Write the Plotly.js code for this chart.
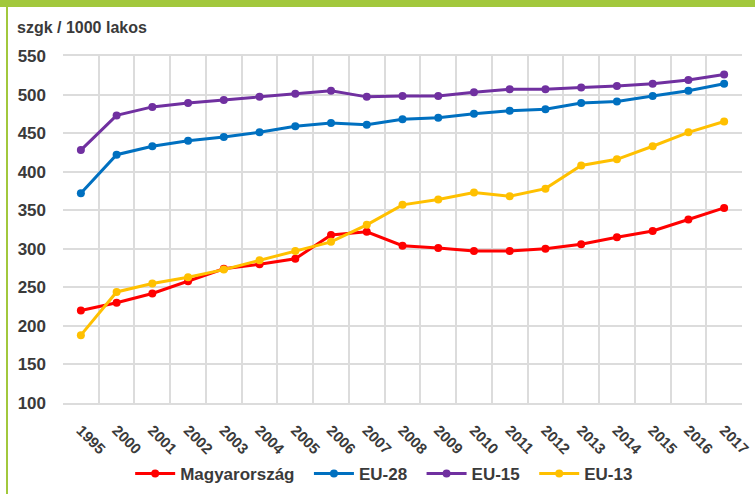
<!DOCTYPE html>
<html>
<head>
<meta charset="utf-8">
<script src="https://cdn.plot.ly/plotly-3.0.1.min.js"></script>
<style>
  html, body { margin: 0; padding: 0; background: #fff; }
  #chart { width: 755px; height: 494px; }
</style>
</head>
<body>
<div id="chart"></div>
<script>
const years = ['1995', '2000', '2001', '2002', '2003', '2004', '2005', '2006', '2007',
    '2008', '2009', '2010', '2011', '2012', '2013', '2014', '2015', '2016', '2017'];

const magyarorszag = [220, 230, 242, 258, 274, 280, 287, 318, 322, 304, 301, 297, 297, 300, 306, 315, 323, 338, 353];
const eu28 = [372, 422, 433, 440, 445, 451, 459, 463, 461, 468, 470, 475, 479, 481, 489, 491, 498, 505, 514];
const eu15 = [428, 473, 484, 489, 493, 497, 501, 505, 497, 498, 498, 503, 507, 507, 509, 511, 514, 519, 526];
const eu13 = [188, 244, 255, 263, 273, 285, 297, 309, 331, 357, 364, 373, 368, 378, 408, 416, 433, 451, 465];

const yTicks = [100, 150, 200, 250, 300, 350, 400, 450, 500, 550];

// trailing nbsp widens the gap between legend entries
const pad = '\u00a0\u00a0';

function series(name, values, color) {
    return {
        x: years,
        y: values,
        name: name,
        type: 'scatter',
        mode: 'lines+markers',
        line: { color: color, width: 3 },
        marker: { color: color, size: 8 },
    };
}

const traces = [
    series('Magyarország' + pad, magyarorszag, '#FF0000'),
    series('EU-28' + pad, eu28, '#0070C0'),
    series('EU-15' + pad, eu15, '#7030A0'),
    series('EU-13', eu13, '#FFC000'),
];

const W = 755, H = 494;
const m = { l: 63, r: 13, t: 56, b: 91, autoexpand: false };
const pw = W - m.l - m.r, ph = H - m.t - m.b;
const green = '#A2C83C';
const fam = 'Liberation Sans, Arial, sans-serif';
const grey = '#3a3a3a';

Plotly.newPlot('chart', traces, {
    width: W,
    height: H,
    margin: m,
    paper_bgcolor: '#fff',
    plot_bgcolor: '#fff',
    font: { family: fam, size: 16, color: grey, weight: 'bold' },
    showlegend: true,
    legend: {
        orientation: 'h',
        x: 0.473, xanchor: 'center',
        y: -(474 - 403) / ph, yanchor: 'middle',
        font: { family: fam, size: 17, color: grey, weight: 'bold' },
        itemwidth: 40,
    },
    xaxis: {
        type: 'category',
        range: [-0.5, years.length - 0.5],
        tickson: 'boundaries',
        ticks: '',
        tickangle: 45,
        ticklabelstandoff: 11,
        tickfont: { family: fam, size: 15, color: grey, weight: 'bold' },
        showgrid: true,
        gridcolor: '#dcdcdc',
        gridwidth: 1.5,
        showline: true,
        linecolor: '#dcdcdc',
        linewidth: 1.5,
        mirror: true,
        zeroline: false,
        automargin: false,
    },
    yaxis: {
        range: [100, 550],
        tickvals: yTicks,
        ticktext: yTicks.map(String),
        ticks: '',
        ticklabelstandoff: 16,
        tickfont: { family: fam, size: 17, color: grey, weight: 'bold' },
        showgrid: true,
        gridcolor: '#dcdcdc',
        gridwidth: 1.5,
        zeroline: false,
        automargin: false,
    },
    annotations: [{
        text: 'szgk / 1000 lakos',
        xref: 'paper', yref: 'paper',
        x: (15 - m.l) / pw, y: 1 + (56 - 27) / ph,
        xanchor: 'left', yanchor: 'middle',
        showarrow: false,
        font: { family: fam, size: 16, color: grey, weight: 'bold' },
    }],
    shapes: [
        {
            type: 'rect', xref: 'paper', yref: 'paper', layer: 'above',
            x0: -m.l / pw, x1: 1 + m.r / pw,
            y0: 1 + (m.t - 7) / ph, y1: 1 + m.t / ph,
            fillcolor: green, line: { width: 0 },
        },
        {
            type: 'rect', xref: 'paper', yref: 'paper', layer: 'above',
            x0: (6 - m.l) / pw, x1: (8 - m.l) / pw,
            y0: -m.b / ph, y1: 1 + m.t / ph,
            fillcolor: green, line: { width: 0 },
        },
    ],
}, { displayModeBar: false });
</script>
</body>
</html>
